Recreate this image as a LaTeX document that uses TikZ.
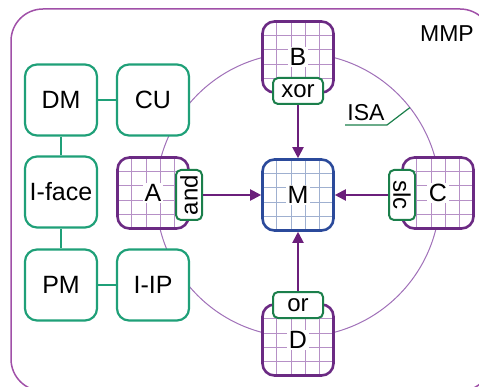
\documentclass[tikz,border=0pt]{standalone}
\usepackage{fontspec}
\setmainfont{Liberation Sans}
\usetikzlibrary{arrows.meta,calc}
\definecolor{gteal}{HTML}{1FA078}
\definecolor{glab}{HTML}{1B7F4B}
\definecolor{pbord}{HTML}{6B2A83}
\definecolor{pgrid}{HTML}{B690C6}
\definecolor{bbord}{HTML}{2B4A9B}
\definecolor{bgrid}{HTML}{9FB0D0}
\definecolor{ringc}{HTML}{A070B8}
\definecolor{framec}{HTML}{A050A8}
\definecolor{arrc}{HTML}{6B1F7B}
\begin{document}
\begin{tikzpicture}[x=1pt,y=-1pt,
 gbox/.style={draw=gteal, line width=2.2pt, rounded corners=12pt, fill=white, minimum width=72pt, minimum height=71pt, inner sep=0pt, font=\fontsize{25}{25}\selectfont},
 gridded/.style={path picture={\foreach \k in {1,...,4}{
   \draw[#1, line width=0.8pt] ([xshift=\k*14.2pt]path picture bounding box.north west) -- ([xshift=\k*14.2pt]path picture bounding box.south west);
   \draw[#1, line width=0.8pt] ([yshift=-\k*14.2pt]path picture bounding box.north west) -- ([yshift=-\k*14.2pt]path picture bounding box.north east);}}},
 cell/.style={line width=2.6pt, rounded corners=12pt, fill=white, minimum width=71pt, minimum height=71pt, inner sep=0pt},
 letter/.style={fill=white, inner sep=1.5pt, font=\fontsize{25}{25}\selectfont},
 op/.style={draw=glab, line width=2pt, rounded corners=5pt, fill=white, minimum width=50pt, minimum height=26pt, inner sep=0pt, font=\fontsize{24}{24}\selectfont},
 arr/.style={draw=arrc, line width=2pt, -{Triangle[length=11pt,width=11pt]}},
 link/.style={draw=gteal, line width=2.2pt},
 plain/.style={font=\fontsize{23}{23}\selectfont, inner sep=0pt},
]
\path[use as bounding box] (0,0) rectangle (479,387);
\begin{scope}
\clip (0,0) rectangle (479,387);
\draw[framec, line width=1.5pt, rounded corners=32pt] (11,9) rectangle (492,391);
\end{scope}
% ISA ring
\node[circle, draw=ringc, line width=1pt, minimum size=284pt, inner sep=0pt, outer sep=0pt] (ring) at (298,195) {};
% green boxes
\node[gbox] (DM) at (61,100) {DM};
\node[gbox] (CU) at (153,100) {CU};
\node[gbox] (IF) at (61,192) {I-face};
\node[gbox] (PM) at (61,285) {PM};
\node[gbox] (IIP) at (153,285) {I-IP};
\draw[link] (DM) -- (CU);
\draw[link] (DM) -- (IF);
\draw[link] (IF) -- (PM);
\draw[link] (PM) -- (IIP);
% grid cells
\node[cell, draw=pbord, gridded=pgrid] (A) at (153,193) {};
\node[letter] (Al) at (A) {A};
\node[cell, draw=pbord, gridded=pgrid] (B) at (298,57) {};
\node[letter] (Bl) at (B) {B};
\node[cell, draw=pbord, gridded=pgrid] (C) at (438,193) {};
\node[letter] (Cl) at (C) {C};
\node[cell, draw=pbord, gridded=pgrid] (D) at (298,340) {};
\node[letter] (Dl) at (D) {D};
\node[cell, draw=bbord, gridded=bgrid] (M) at (298,195) {};
\node[letter] (Ml) at (M) {M};
% operators
\node[op] (xor) at (298,91) {xor};
\node[op] (or) at (298,305) {or};
\node[op, rotate=90] (and) at (189,195) {and};
\node[op, rotate=-90] (slc) at (402,195) {slc};
\draw[arr] (xor) -- (M);
\draw[arr] (or) -- (M);
\draw[arr] (and) -- (M);
\draw[arr] (slc) -- (M);
% labels
\node[plain] (MMP) at (447,34) {MMP};
\node[plain] (ISA) at (366,113) {ISA};
\coordinate (isaA) at (345,125);
\coordinate (isaB) at (387,125);
\draw[glab, line width=1.2pt] (isaA) -- (isaB) -- (ring.38.4);
\end{tikzpicture}
\end{document}
